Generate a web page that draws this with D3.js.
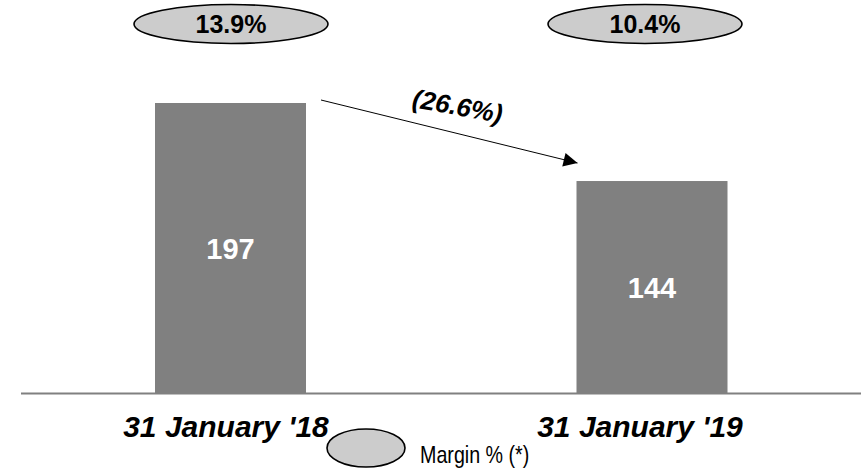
<!DOCTYPE html>
<html>
<head>
<meta charset="utf-8">
<script src="https://cdn.jsdelivr.net/npm/d3@7"></script>
<style>
  html, body { margin: 0; padding: 0; background: #fff; }
  svg { display: block; font-family: "Liberation Sans", Arial, sans-serif; }
</style>
</head>
<body>
<svg id="chart" width="868" height="469"></svg>
<script>
// Period labels and the value shown on each bar
const periods = ["31 January '18", "31 January '19"];
const values = [197, 144];
// Margin % shown in the bubble above each period
const margins = ["13.9%", "10.4%"];
// Year-on-year change printed along the arrow
const changeLabel = "(26.6%)";
const legendLabel = "Margin % (*)";

const svg = d3.select("#chart");

const barWidth = 151;
const x = d3.scalePoint().domain(periods).range([230.5, 652]);
const y = d3.scaleLinear().domain([0, d3.max(values)]).range([393, 103]);
// bubble / label centres sit slightly left of the second bar
const xLabel = d3.scalePoint().domain(periods).range([231, 645]);

const barColor = "#808080";
const bubbleFill = "#cccccc";

// baseline
const xLine = d3.scaleLinear().domain([0, 1]).range([21, 861]);
svg.append("line")
  .attr("x1", xLine(0)).attr("x2", xLine(1))
  .attr("y1", y(0) + 0.5).attr("y2", y(0) + 0.5)
  .attr("stroke", barColor).attr("stroke-width", 2);

// bars
svg.selectAll("rect.bar")
  .data(periods)
  .join("rect")
  .attr("class", "bar")
  .attr("x", d => x(d) - barWidth / 2)
  .attr("width", barWidth)
  .attr("y", (d, i) => y(values[i]))
  .attr("height", (d, i) => y(0) - y(values[i]))
  .attr("fill", barColor);

// values inside bars
svg.selectAll("text.val")
  .data(periods)
  .join("text")
  .attr("class", "val")
  .attr("x", d => x(d))
  .attr("y", (d, i) => (y(values[i]) + y(0)) / 2 + 11)
  .attr("text-anchor", "middle")
  .attr("fill", "#fff")
  .attr("font-weight", "bold")
  .attr("font-size", 29)
  .text((d, i) => values[i]);

// margin bubbles
const bubbles = svg.selectAll("g.bubble")
  .data(periods)
  .join("g")
  .attr("class", "bubble")
  .attr("transform", d => `translate(${xLabel(d)},24)`);
bubbles.append("ellipse")
  .attr("rx", 97).attr("ry", 19.5)
  .attr("fill", bubbleFill).attr("stroke", "#000").attr("stroke-width", 1.6);
bubbles.append("text")
  .attr("y", 9)
  .attr("text-anchor", "middle")
  .attr("font-weight", "bold")
  .attr("font-size", 25)
  .text((d, i) => margins[i]);

// change arrow between the bar tops
svg.append("defs").append("marker")
  .attr("id", "arrowHead")
  .attr("viewBox", "0 0 10 10")
  .attr("refX", 10).attr("refY", 5)
  .attr("markerWidth", 20).attr("markerHeight", 14)
  .attr("markerUnits", "userSpaceOnUse")
  .attr("orient", "auto")
  .append("path")
  .attr("d", "M0,0 L10,5 L0,10 Z")
  .attr("fill", "#000");

const ax1 = x(periods[0]) + barWidth / 2 + 15, ay1 = y(values[0]) - 3;
const ax2 = x(periods[1]) - barWidth / 2 + 1, ay2 = y(values[1]) - 18;
svg.append("line")
  .attr("x1", ax1).attr("y1", ay1)
  .attr("x2", ax2).attr("y2", ay2)
  .attr("stroke", "#000").attr("stroke-width", 1)
  .attr("marker-end", "url(#arrowHead)");

svg.append("text")
  .attr("transform", "translate(456,115) rotate(10)")
  .attr("text-anchor", "middle")
  .attr("font-weight", "bold")
  .attr("font-style", "italic")
  .attr("font-size", 26)
  .text(changeLabel);

// period labels
svg.selectAll("text.cat")
  .data(periods)
  .join("text")
  .attr("class", "cat")
  .attr("x", d => xLabel(d) - 5)
  .attr("y", 437)
  .attr("text-anchor", "middle")
  .attr("font-weight", "bold")
  .attr("font-style", "italic")
  .attr("font-size", 30)
  .text(d => d);

// legend
const lg = svg.append("g").attr("transform", "translate(366,448)");
lg.append("ellipse")
  .attr("rx", 39).attr("ry", 19)
  .attr("fill", bubbleFill).attr("stroke", "#000").attr("stroke-width", 1.6);
lg.append("text")
  .attr("transform", "translate(54,15) scale(0.82,1)")
  .attr("font-size", 24)
  .text(legendLabel);
</script>
</body>
</html>
